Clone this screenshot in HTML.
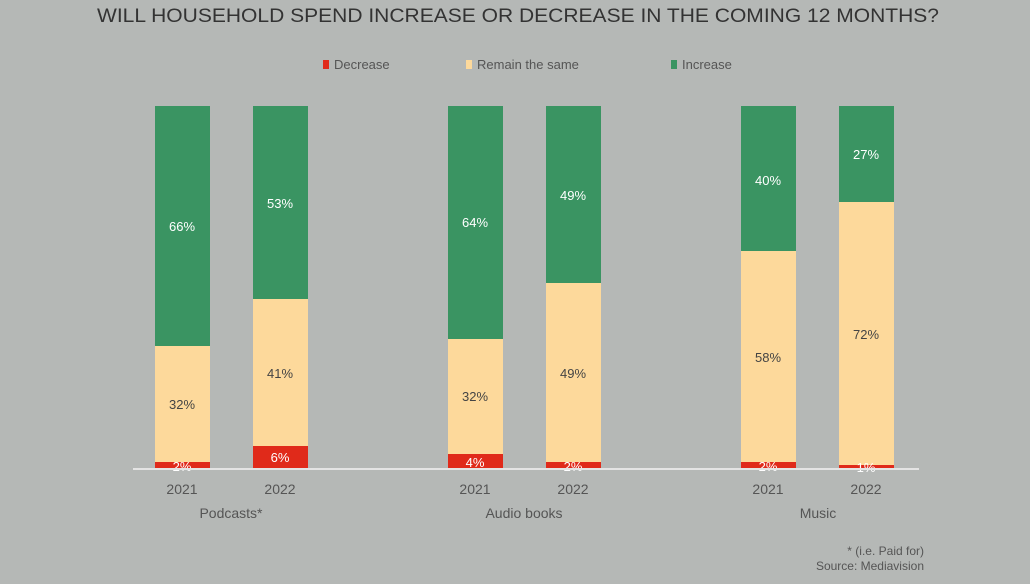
<!DOCTYPE html>
<html><head><meta charset="utf-8"><style>
body{margin:0;background:#b5b8b6;}
</style></head><body>
<svg width="1030" height="579" xmlns="http://www.w3.org/2000/svg" font-family="Liberation Sans, sans-serif">
<rect width="1030" height="579" fill="#b5b8b6"/>
<text x="518" y="22" text-anchor="middle" font-size="19" fill="#333" textLength="842" lengthAdjust="spacingAndGlyphs">WILL HOUSEHOLD SPEND INCREASE OR DECREASE IN THE COMING 12 MONTHS?</text>
<rect x="323" y="60" width="6" height="9" fill="#e02a1a"/><text x="334" y="69" font-size="13" fill="#555">Decrease</text>
<rect x="466" y="60" width="6" height="9" fill="#fdd99b"/><text x="477" y="69" font-size="13" fill="#555">Remain the same</text>
<rect x="671" y="60" width="6" height="9" fill="#3a9462"/><text x="682" y="69" font-size="13" fill="#555">Increase</text>
<g font-size="13">
<!-- bars: x, redTop, yellowTop -->
<rect x="155" y="106" width="55" height="240" fill="#3a9462"/><rect x="155" y="346" width="55" height="116" fill="#fdd99b"/><rect x="155" y="462" width="55" height="7" fill="#e02a1a"/>
<text x="182" y="231" text-anchor="middle" fill="#fff">66%</text><text x="182" y="409" text-anchor="middle" fill="#444">32%</text><text x="182" y="471" text-anchor="middle" fill="#fff">2%</text>
<rect x="253" y="106" width="55" height="193" fill="#3a9462"/><rect x="253" y="299" width="55" height="147" fill="#fdd99b"/><rect x="253" y="446" width="55" height="23" fill="#e02a1a"/>
<text x="280" y="208" text-anchor="middle" fill="#fff">53%</text><text x="280" y="378" text-anchor="middle" fill="#444">41%</text><text x="280" y="462" text-anchor="middle" fill="#fff">6%</text>
<rect x="448" y="106" width="55" height="233" fill="#3a9462"/><rect x="448" y="339" width="55" height="115" fill="#fdd99b"/><rect x="448" y="454" width="55" height="15" fill="#e02a1a"/>
<text x="475" y="227" text-anchor="middle" fill="#fff">64%</text><text x="475" y="401" text-anchor="middle" fill="#444">32%</text><text x="475" y="467" text-anchor="middle" fill="#fff">4%</text>
<rect x="546" y="106" width="55" height="177" fill="#3a9462"/><rect x="546" y="283" width="55" height="179" fill="#fdd99b"/><rect x="546" y="462" width="55" height="7" fill="#e02a1a"/>
<text x="573" y="200" text-anchor="middle" fill="#fff">49%</text><text x="573" y="378" text-anchor="middle" fill="#444">49%</text><text x="573" y="471" text-anchor="middle" fill="#fff">2%</text>
<rect x="741" y="106" width="55" height="145" fill="#3a9462"/><rect x="741" y="251" width="55" height="211" fill="#fdd99b"/><rect x="741" y="462" width="55" height="7" fill="#e02a1a"/>
<text x="768" y="185" text-anchor="middle" fill="#fff">40%</text><text x="768" y="362" text-anchor="middle" fill="#444">58%</text><text x="768" y="471" text-anchor="middle" fill="#fff">2%</text>
<rect x="839" y="106" width="55" height="96" fill="#3a9462"/><rect x="839" y="202" width="55" height="263" fill="#fdd99b"/><rect x="839" y="465" width="55" height="4" fill="#e02a1a"/>
<text x="866" y="159" text-anchor="middle" fill="#fff">27%</text><text x="866" y="339" text-anchor="middle" fill="#444">72%</text><text x="866" y="472" text-anchor="middle" fill="#fff">1%</text>
</g>
<rect x="133" y="468" width="786" height="2" fill="#e4e4e4"/>
<g font-size="14" fill="#555" text-anchor="middle">
<text x="182" y="494">2021</text><text x="280" y="494">2022</text>
<text x="475" y="494">2021</text><text x="573" y="494">2022</text>
<text x="768" y="494">2021</text><text x="866" y="494">2022</text>
<text x="231" y="518">Podcasts*</text><text x="524" y="518">Audio books</text><text x="818" y="518">Music</text>
</g>
<g font-size="12" fill="#555" text-anchor="end">
<text x="924" y="555">* (i.e. Paid for)</text><text x="924" y="570">Source: Mediavision</text>
</g>
</svg>
</body></html>
